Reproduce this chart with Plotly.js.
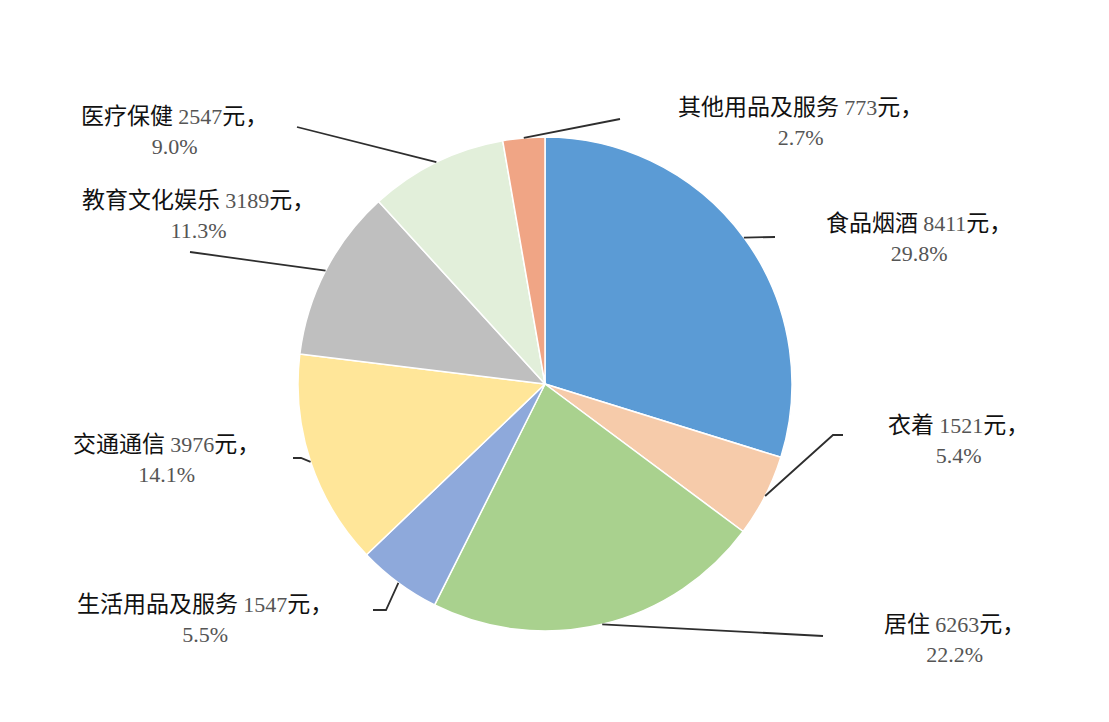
<!DOCTYPE html>
<html>
<head>
<meta charset="utf-8">
<script src="https://cdn.plot.ly/plotly-3.0.1.min.js"></script>
<style>html,body{margin:0;padding:0;background:#fff;}#chart{width:1109px;height:722px;}</style>
</head>
<body>
<div id="chart"></div>
<script>
// ---- data ----
const categories = ['食品烟酒', '衣着', '居住', '生活用品及服务', '交通通信', '教育文化娱乐', '医疗保健', '其他用品及服务'];
const values = [8411, 1521, 6263, 1547, 3976, 3189, 2547, 773];
const percents = ['29.8%', '5.4%', '22.2%', '5.5%', '14.1%', '11.3%', '9.0%', '2.7%'];
const colors = ['#5B9BD5', '#F6CBAA', '#A9D18E', '#8EA9DB', '#FFE699', '#BFBFBF', '#E2EFDA', '#F0A585'];

// ---- layout geometry (pixels) ----
const W = 1109, H = 722;
const cx = 545, cy = 384, R = 247;
// label block centres
const labelPos = [[919, 235], [958, 437], [954, 636], [205, 616], [166, 456], [198, 212], [174, 128], [800, 119]];
// leader line points after the slice edge point
const leaderPts = [
  [[775, 237]],
  [[833, 435], [843, 435]],
  [[823, 636]],
  [[386, 610], [373, 610]],
  [[301, 458], [293, 458]],
  [[190, 252]],
  [[297, 127]],
  [[620, 119]]
];

const px = x => x / W;
const py = y => 1 - y / H;

const total = values.reduce((a, b) => a + b, 0);
let cum = 0;
const shapes = [];
const annotations = [];
values.forEach((v, i) => {
  const mid = (cum + v / 2) / total * 2 * Math.PI;
  cum += v;
  const sx = cx + R * Math.sin(mid), sy = cy - R * Math.cos(mid);
  let d = `M ${px(sx)} ${py(sy)}`;
  leaderPts[i].forEach(p => { d += ` L ${px(p[0])} ${py(p[1])}`; });
  shapes.push({type: 'path', xref: 'paper', yref: 'paper', path: d, line: {color: '#2e2e2e', width: 1.8}});
  const num = `<span style="font-family:'Liberation Serif';color:#555555;font-size:22px">${values[i]}</span>元，`;
  const pct = `<span style="font-family:'Liberation Serif';color:#555555;font-size:22px">${percents[i]}</span>`;
  annotations.push({
    xref: 'paper', yref: 'paper', x: px(labelPos[i][0]), y: py(labelPos[i][1]),
    xanchor: 'center', yanchor: 'middle', align: 'center', showarrow: false,
    text: `${categories[i]} ${num}<br>${pct}`,
    font: {family: "'Noto Sans CJK SC', sans-serif", size: 23, color: '#111111'}
  });
});

const trace = {
  type: 'pie',
  labels: categories,
  values: values,
  sort: false,
  direction: 'clockwise',
  rotation: 0,
  marker: {colors: colors, line: {color: '#ffffff', width: 1.5}},
  textinfo: 'none',
  hoverinfo: 'label+value+percent',
  domain: {x: [px(cx - R), px(cx + R)], y: [py(cy + R), py(cy - R)]},
  showlegend: false
};

const layout = {
  width: W, height: H,
  margin: {l: 0, r: 0, t: 0, b: 0},
  paper_bgcolor: '#ffffff',
  showlegend: false,
  shapes: shapes,
  annotations: annotations
};

Plotly.newPlot('chart', [trace], layout, {displayModeBar: false, staticPlot: true});
</script>
</body>
</html>
